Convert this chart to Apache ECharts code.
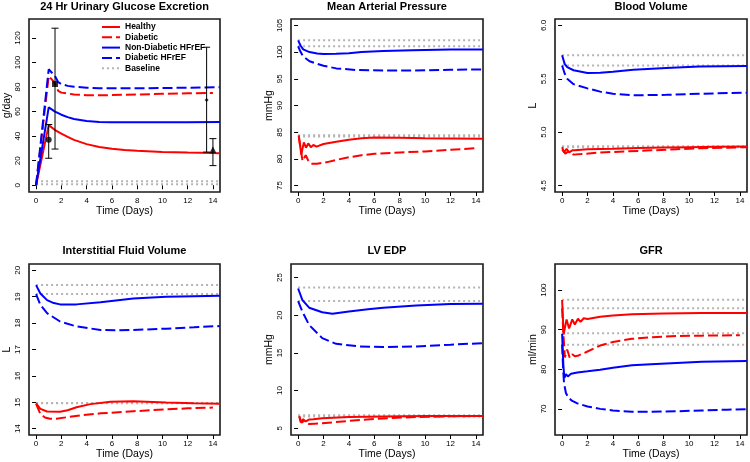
<!DOCTYPE html>
<html>
<head>
<meta charset="utf-8">
<script src="https://cdn.jsdelivr.net/npm/echarts@6/dist/echarts.min.js"></script>
<style>
html,body{margin:0;padding:0;background:#fff;}
#c{width:750px;height:462px;}
</style>
</head>
<body>
<div id="c"></div>
<script>
// ---------- DATA ----------
const xTicks = [0, 2, 4, 6, 8, 10, 12, 14];
const seriesNames = ['Healthy', 'Diabetic', 'Non-Diabetic HFrEF', 'Diabetic HFrEF', 'Baseline'];

// 24 Hr Urinary Glucose Excretion (g/day)
const ugeTicks = [0, 20, 40, 60, 80, 100, 120];
const ugeBase = [3.3, 0.8];
const ugeHealthy = [[0,0],[1,49],[1.5,45],[2,42],[2.5,39.5],[3,37],[4,33.5],[5,31.2],[6,29.8],[7,28.8],[8,28.1],[10,27.2],[12,26.6],[14,26.2],[14.55,26.1]];
const ugeDiabetic = [[0,0],[1,89],[1.4,84.5],[1.75,77],[2,75.5],[3,74],[4,73.4],[5,73.3],[6,73.5],[8,74],[10,74.5],[12,74.9],[14,75.2]];
const ugeHfref = [[0,0],[1,63.5],[1.5,60],[2,57.5],[2.5,55.5],[3,54],[4,52.3],[5,51.6],[6,51.3],[8,51.3],[10,51.3],[12,51.4],[14.55,51.5]];
const ugeDhfref = [[0,0],[1,94.5],[1.5,89],[1.75,84],[2,82.5],[2.5,81],[3,80.3],[4,79.5],[5,79.1],[6,79],[8,79],[10,79.2],[12,79.5],[14.55,79.9]];
// observed points: [t, value, low, high]
const ugeObsCircle = [[1, 37, 22, 49.5]];
const ugeObsSquare = [[1.5, 82.5, 29.5, 128]];
const ugeObsDiamond = [[13.5, 69.5, 27, 112.5]];
const ugeObsTriangle = [[14, 29, 16, 38]];

// Mean Arterial Pressure (mmHg)
const mapTicks = [75, 80, 85, 90, 95, 100, 105];
const mapBase = [102.2, 101.1, 84.45, 84.2];
const mapHealthy = [[0.05,84.4],[0.25,80.8],[0.45,83.1],[0.62,82.1],[0.8,82.9],[1.0,82.2],[1.2,82.6],[1.45,82.3],[2,82.8],[3,83.2],[4,83.6],[5,83.85],[6,84],[8,83.95],[10,83.85],[12,83.8],[14.55,83.75]];
const mapDiabetic = [[0.05,84.2],[0.35,79.6],[0.6,80.7],[0.85,79.4],[1.1,79.1],[1.5,79.1],[2.3,79.4],[3,79.8],[4,80.3],[5,80.7],[6,80.95],[8,81.2],[10,81.4],[12,81.7],[14,82]];
const mapHfref = [[0,102.2],[0.2,101.2],[0.4,100.5],[0.9,100],[1.5,99.75],[2,99.65],[3,99.7],[4,99.8],[5,100],[6.7,100.2],[9,100.35],[12,100.5],[14.55,100.5]];
const mapDhfref = [[0,101.1],[0.2,100],[0.4,99.2],[0.9,98.3],[1.5,97.8],[2,97.45],[3,96.95],[4.6,96.65],[6.7,96.55],[9,96.55],[12,96.7],[14.55,96.75]];

// Blood Volume (L)
const bvTicks = [4.5, 5.0, 5.5, 6.0];
const bvBase = [5.72, 5.625, 4.868, 4.86];
const bvHealthy = [[0,4.86],[0.15,4.81],[0.35,4.845],[0.55,4.81],[0.8,4.83],[1,4.83],[2,4.84],[4,4.845],[6,4.852],[8,4.857],[10,4.86],[12,4.863],[14.55,4.865]];
const bvDiabetic = [[0,4.84],[0.25,4.80],[0.5,4.82],[0.9,4.79],[1.5,4.795],[3,4.81],[5,4.82],[7,4.83],[9,4.84],[11,4.85],[13,4.855],[14.55,4.86]];
const bvHfref = [[0,5.72],[0.2,5.64],[0.4,5.61],[0.9,5.58],[2,5.555],[3,5.556],[4,5.565],[5.6,5.585],[8.2,5.60],[10.8,5.615],[14.55,5.62]];
const bvDhfref = [[0,5.625],[0.2,5.55],[0.4,5.50],[0.9,5.45],[2,5.41],[3,5.38],[4,5.36],[5.6,5.345],[8.2,5.35],[10.8,5.36],[14.55,5.37]];

// Interstitial Fluid Volume (L)
const isfTicks = [14, 15, 16, 17, 18, 19, 20];
const isfBase = [19.44, 19.1, 14.975, 14.96];
const isfHealthy = [[0,14.96],[0.34,14.75],[0.87,14.65],[1.9,14.64],[2.5,14.7],[3.2,14.81],[4.3,14.93],[5.9,15.02],[7.7,15.04],[10.3,14.99],[12.5,14.96],[14.55,14.94]];
const isfDiabetic = [[0,14.94],[0.34,14.56],[0.7,14.42],[1.1,14.375],[1.6,14.38],[2.4,14.43],[3.5,14.5],[5.1,14.58],[7.7,14.66],[10.3,14.73],[12,14.77],[14,14.8]];
const isfHfref = [[0,19.44],[0.34,19.12],[0.87,18.87],[1.4,18.76],[1.9,18.71],[3.2,18.71],[5.1,18.79],[7.7,18.93],[10.3,19.0],[12.5,19.02],[14.55,19.04]];
const isfDhfref = [[0,19.1],[0.34,18.69],[0.87,18.375],[1.9,18.06],[3.2,17.875],[5.1,17.74],[6.4,17.725],[7.7,17.74],[10.3,17.79],[12.5,17.84],[14.55,17.89]];

// LV EDP (mmHg)
const lvTicks = [5, 10, 15, 20, 25];
const lvBase = [23.68, 21.88, 6.71, 6.54];
const lvHealthy = [[0.1,6.6],[0.2,5.8],[0.4,6.19],[0.6,5.9],[0.85,6.15],[1.2,6.2],[1.9,6.32],[4,6.49],[6.7,6.57],[10,6.61],[14.55,6.63]];
const lvDiabetic = [[0.1,6.5],[0.26,5.75],[0.47,5.97],[0.87,5.55],[1.3,5.6],[1.9,5.66],[4,5.97],[6.7,6.3],[9.3,6.49],[12,6.58],[14.55,6.63]];
const lvHfref = [[0,23.55],[0.34,22.0],[0.87,21.0],[1.9,20.4],[2.7,20.2],[4,20.5],[5.5,20.8],[6.7,21.0],[9.3,21.3],[12,21.5],[14.55,21.53]];
const lvDhfref = [[0,21.88],[0.34,20.47],[0.87,18.7],[1.9,16.96],[3,16.2],[4.8,15.86],[6.7,15.77],[9.3,15.86],[12,16.08],[14.55,16.3]];

// GFR (ml/min)
const gfrTicks = [70, 80, 90, 100];
const gfrBase = [97.6, 95.4, 89.1, 86.2];
const gfrHealthy = [[0,97.5],[0.12,88.8],[0.35,92.6],[0.55,90.3],[0.8,92.6],[1.0,91.3],[1.25,92.8],[1.45,92.0],[1.7,92.9],[2.0,92.7],[3,93.3],[4,93.6],[5.5,93.9],[8,94.1],[11,94.2],[14.55,94.2]];
const gfrDiabetic = [[0,95.4],[0.1,89],[0.22,83],[0.4,85],[0.6,82.9],[0.8,83.8],[1.0,83.3],[1.3,83.5],[2,84.5],[3,86],[4,86.9],[5.5,87.7],[7,88.1],[9,88.4],[11,88.5],[14,88.6]];
const gfrHfref = [[0,89],[0.1,81],[0.18,77.8],[0.3,78.8],[0.45,78.2],[0.7,78.9],[1.2,79.2],[2,79.5],[3,79.9],[4,80.4],[5.5,81.0],[7,81.3],[9,81.6],[11,81.9],[14.55,82.1]];
const gfrDhfref = [[0,86.3],[0.08,80],[0.15,76.5],[0.3,74],[0.5,72.8],[0.8,72],[1.2,71.4],[2,70.6],[3,70],[4,69.6],[5.5,69.3],[7,69.3],[9,69.4],[11,69.6],[13,69.8],[14.55,69.9]];

// ---------- LAYOUT / STYLE ----------
const FONT = "'Liberation Sans', Arial, sans-serif";
const RED = '#ff0000', BLUE = '#0000ff', GREY = '#b4b4b4';
const X_MIN = -0.56, X_MAX = 14.56;

const panels = [
  {title:'24 Hr Urinary Glucose Excretion', yName:'g/day', min:-5.5, max:135.5, ticks:ugeTicks, base:ugeBase, h:ugeHealthy, d:ugeDiabetic, n:ugeHfref, dh:ugeDhfref, dec:0},
  {title:'Mean Arterial Pressure', yName:'mmHg', min:73.8, max:106.2, ticks:mapTicks, base:mapBase, h:mapHealthy, d:mapDiabetic, n:mapHfref, dh:mapDhfref, dec:0},
  {title:'Blood Volume', yName:'L', min:4.44, max:6.06, ticks:bvTicks, base:bvBase, h:bvHealthy, d:bvDiabetic, n:bvHfref, dh:bvDhfref, dec:1},
  {title:'Interstitial Fluid Volume', yName:'L', min:13.76, max:20.24, ticks:isfTicks, base:isfBase, h:isfHealthy, d:isfDiabetic, n:isfHfref, dh:isfDhfref, dec:0},
  {title:'LV EDP', yName:'mmHg', min:4.1, max:26.8, ticks:lvTicks, base:lvBase, h:lvHealthy, d:lvDiabetic, n:lvHfref, dh:lvDhfref, dec:0},
  {title:'GFR', yName:'ml/min', min:63.4, max:106.6, ticks:gfrTicks, base:gfrBase, h:gfrHealthy, d:gfrDiabetic, n:gfrHfref, dh:gfrDhfref, dec:0}
];
const colLeft = [29, 291, 555];
const colWidth = [191, 192, 192];
const rowTop = [19, 264];
const rowHeight = [173, 171];
const titleTop = [1, 245];

const grids = [], xAxes = [], yAxes = [], titles = [], series = [];

panels.forEach((p, i) => {
  const c = i % 3, r = Math.floor(i / 3);
  grids.push({left: colLeft[c], top: rowTop[r], width: colWidth[c], height: rowHeight[r],
    show: true, borderColor: '#1a1a1a', borderWidth: 1.6, backgroundColor: 'transparent', containLabel: false});
  titles.push({text: p.title, left: colLeft[c] + colWidth[c] / 2, top: titleTop[r], textAlign: 'center', padding: 0,
    textStyle: {fontFamily: FONT, fontSize: 11, fontWeight: 'bold', color: '#000'}});
  xAxes.push({type: 'value', gridIndex: i, min: X_MIN, max: X_MAX,
    name: 'Time (Days)', nameLocation: 'middle', nameGap: 13,
    nameTextStyle: {fontFamily: FONT, fontSize: 10.5, color: '#000'},
    axisLine: {show: false}, splitLine: {show: false},
    axisTick: {show: true, inside: false, length: 4, customValues: xTicks, lineStyle: {color: '#000', width: 1}},
    axisLabel: {show: true, customValues: xTicks, margin: 5, fontFamily: FONT, fontSize: 8, color: '#000'}
  });
  yAxes.push({type: 'value', gridIndex: i, min: p.min, max: p.max,
    name: p.yName, nameLocation: 'middle', nameGap: 12, nameRotate: 90,
    nameTextStyle: {fontFamily: FONT, fontSize: 10.5, color: '#000'},
    axisLine: {show: false}, splitLine: {show: false},
    axisTick: {show: true, inside: false, length: 4, customValues: p.ticks, lineStyle: {color: '#000', width: 1}},
    axisLabel: {show: true, customValues: p.ticks, rotate: 90, margin: 7, fontFamily: FONT, fontSize: 8, color: '#000',
      formatter: v => Number(v).toFixed(p.dec)}
  });
  p.base.forEach(b => {
    series.push({type: 'line', name: 'Baseline', xAxisIndex: i, yAxisIndex: i, data: [[0, b], [14.55, b]],
      symbol: 'none', silent: true, lineStyle: {color: GREY, width: 2, type: [2, 3]}, itemStyle: {color: GREY}, z: 2});
  });
  const defs = [
    ['Healthy', p.h, RED, 'solid'],
    ['Diabetic', p.d, RED, [10, 4]],
    ['Non-Diabetic HFrEF', p.n, BLUE, 'solid'],
    ['Diabetic HFrEF', p.dh, BLUE, [10, 4]]
  ];
  defs.forEach(([name, data, color, type]) => {
    series.push({type: 'line', name, xAxisIndex: i, yAxisIndex: i, data, symbol: 'none',
      lineStyle: {color, width: 2, type}, itemStyle: {color}, z: 3});
  });
});

// observed data with error bars in panel 1
const obsAll = [].concat(ugeObsCircle, ugeObsSquare, ugeObsDiamond, ugeObsTriangle);
series.push({
  type: 'custom', name: 'obs', xAxisIndex: 0, yAxisIndex: 0, z: 5,
  data: obsAll.map(o => [o[0], o[2], o[3]]),
  encode: {x: 0, y: [1, 2]},
  renderItem: function (params, api) {
    const x = api.value(0), lo = api.value(1), hi = api.value(2);
    const a = api.coord([x, lo]), b = api.coord([x, hi]);
    const cw = 3.5, st = {stroke: '#000', lineWidth: 1};
    return {type: 'group', children: [
      {type: 'line', shape: {x1: a[0], y1: a[1], x2: b[0], y2: b[1]}, style: st},
      {type: 'line', shape: {x1: a[0] - cw, y1: a[1], x2: a[0] + cw, y2: a[1]}, style: st},
      {type: 'line', shape: {x1: b[0] - cw, y1: b[1], x2: b[0] + cw, y2: b[1]}, style: st}
    ]};
  }
});
function obsScatter(arr, symbol, size) {
  return {type: 'scatter', name: 'obs', xAxisIndex: 0, yAxisIndex: 0, z: 6, symbol, symbolSize: size,
    itemStyle: {color: '#000'}, data: arr.map(o => [o[0], o[1]])};
}
series.push(obsScatter(ugeObsCircle, 'circle', 6));
series.push(obsScatter(ugeObsSquare, 'rect', 6));
series.push(obsScatter(ugeObsDiamond, 'diamond', 4));
series.push(obsScatter(ugeObsTriangle, 'triangle', 7));

const option = {
  animation: false,
  backgroundColor: '#fff',
  title: titles,
  grid: grids,
  xAxis: xAxes,
  yAxis: yAxes,
  legend: {
    data: seriesNames, orient: 'vertical', left: 101, top: 22,
    itemWidth: 18, itemHeight: 10, itemGap: 0.3, padding: 0,
    itemStyle: {color: 'rgba(0,0,0,0)', borderColor: 'rgba(0,0,0,0)', borderWidth: 0, opacity: 0},
    textStyle: {fontFamily: FONT, fontSize: 8.5, fontWeight: 'bold', color: '#000', lineHeight: 10},
    selectedMode: false
  },
  series
};
const chart = echarts.init(document.getElementById('c'), null, {renderer: 'canvas'});
chart.setOption(option);
</script>
</body>
</html>
